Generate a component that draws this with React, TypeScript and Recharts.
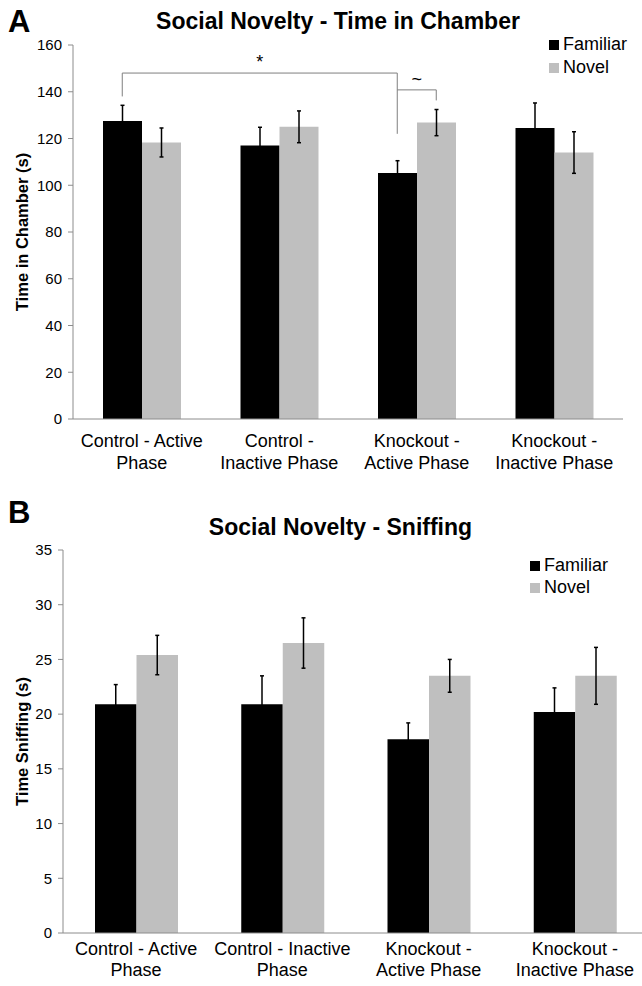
import React from "react";
import { BarChart, Bar, XAxis, YAxis, ErrorBar, Legend, ReferenceLine } from "recharts";

// Panel A - time in chamber
const categoriesA = [
  "Control - Active\nPhase",
  "Control -\nInactive Phase",
  "Knockout -\nActive Phase",
  "Knockout -\nInactive Phase",
];
const familiarA = [127.5, 117, 105.2, 124.5];
const familiarErrA = [6.7, 7.8, 5.3, 10.7];
const novelA = [118.3, 125, 126.8, 114];
const novelErrA = [6.2, 6.8, 5.6, 8.9];
const ticksA = [0, 20, 40, 60, 80, 100, 120, 140, 160];

// Panel B - sniffing
const categoriesB = [
  "Control - Active\nPhase",
  "Control - Inactive\nPhase",
  "Knockout -\nActive Phase",
  "Knockout -\nInactive Phase",
];
const familiarB = [20.9, 20.9, 17.7, 20.2];
const familiarErrB = [1.8, 2.6, 1.5, 2.2];
const novelB = [25.4, 26.5, 23.5, 23.5];
const novelErrB = [1.8, 2.3, 1.5, 2.6];
const ticksB = [0, 5, 10, 15, 20, 25, 30, 35];

// significance brackets on panel A
const bracketFrom = [0, 2];
const bracketTo = [2, 2];
const bracketFromSeries = ["familiar", "familiar"];
const bracketToSeries = ["familiar", "novel"];
const bracketY = [148, 140.8];
const bracketLeftEnd = [138, 140.8];
const bracketRightEnd = [122, 136.3];
const bracketLabel = ["*", "~"];

const FONT = "'Liberation Sans', Arial, sans-serif";
const AXIS = "#8c8c8c";

const build = (cats: string[], fam: number[], famErr: number[], nov: number[], novErr: number[]) =>
  cats.map((c, i) => ({
    category: c,
    familiar: fam[i],
    familiarErr: famErr[i],
    novel: nov[i],
    novelErr: novErr[i],
  }));

const dataA = build(categoriesA, familiarA, familiarErrA, novelA, novelErrA);
const dataB = build(categoriesB, familiarB, familiarErrB, novelB, novelErrB);

const categoryTick = (first: number, step: number) => (props: any) => {
  const { x, y, payload } = props;
  const lines = String(payload.value).split("\n");
  return (
    <text x={x} y={y} textAnchor="middle" fontSize={18} fill="#000" fontFamily={FONT}>
      {lines.map((l, i) => (
        <tspan key={i} x={x} dy={i === 0 ? first : step}>
          {l}
        </tspan>
      ))}
    </text>
  );
};

// shifts a reference segment from band centre to the bar centre
const shifted = (dl: number, dr: number, label?: string) => (p: any) => {
  const x1 = p.x1 + dl;
  const x2 = p.x2 + dr;
  return (
    <g>
      <line x1={x1} y1={p.y1} x2={x2} y2={p.y2} stroke="#7f7f7f" strokeWidth={1} />
      {label ? (
        <text x={(x1 + x2) / 2} y={p.y1 - 5} textAnchor="middle" fontSize={18} fill="#000" fontFamily={FONT}>
          {label}
        </text>
      ) : null}
    </g>
  );
};

const legendFmt = (v: string) => <span style={{ color: "#000" }}>{v}</span>;

export default function App() {
  const barA = 39;
  const barB = 41.5;
  const off = (s: string, w: number) => (s === "familiar" ? -w / 2 : w / 2);

  return (
    <div
      style={{
        position: "absolute",
        left: 0,
        top: 0,
        width: 642,
        height: 986,
        overflow: "hidden",
        background: "#fff",
        fontFamily: FONT,
      }}
    >
      <div style={{ position: "absolute", left: 8, top: 6, fontSize: 31, fontWeight: "bold", lineHeight: "32px" }}>A</div>
      <div
        style={{ position: "absolute", left: 0, width: 676, top: 9, textAlign: "center", fontSize: 23, fontWeight: "bold", lineHeight: "24px" }}
      >
        Social Novelty - Time in Chamber
      </div>

      <div style={{ position: "absolute", left: 0, top: 0 }}>
        <BarChart width={642} height={480} data={dataA} barGap={0} margin={{ top: 45, right: 19, left: 0, bottom: 0 }}>
          <XAxis
            dataKey="category"
            tickLine={false}
            tickSize={0}
            tickMargin={0}
            interval={0}
            height={61}
            axisLine={{ stroke: AXIS }}
            tick={categoryTick(28, 22)}
          />
          <YAxis
            domain={[0, 160]}
            ticks={ticksA}
            width={73}
            tickSize={5}
            tickMargin={6}
            axisLine={{ stroke: AXIS }}
            tickLine={{ stroke: AXIS }}
            tick={{ fill: "#000", fontSize: 15, fontFamily: FONT }}
            label={{
              value: "Time in Chamber (s)",
              angle: -90,
              position: "insideLeft",
              offset: 22,
              style: { textAnchor: "middle", fontWeight: "bold", fontSize: 16.5, fill: "#000", fontFamily: FONT },
            }}
          />
          <Legend
            layout="horizontal"
            verticalAlign="top"
            align="left"
            iconType="square"
            iconSize={10}
            formatter={legendFmt}
            wrapperStyle={{ left: 549, top: 33, width: 100, height: 0, fontSize: 18, lineHeight: "23px" }}
          />
          <Bar dataKey="familiar" name="Familiar" fill="#000" barSize={barA} isAnimationActive={false}>
            <ErrorBar dataKey="familiarErr" width={2} stroke="#000" strokeWidth={1.5} isAnimationActive={false} />
          </Bar>
          <Bar dataKey="novel" name="Novel" fill="#bfbfbf" barSize={barA} isAnimationActive={false}>
            <ErrorBar dataKey="novelErr" width={2} stroke="#000" strokeWidth={1.5} isAnimationActive={false} />
          </Bar>
          {bracketY.map((y, i) => {
            const a = categoriesA[bracketFrom[i]];
            const b = categoriesA[bracketTo[i]];
            const dl = off(bracketFromSeries[i], barA);
            const dr = off(bracketToSeries[i], barA);
            return (
              <React.Fragment key={i}>
                <ReferenceLine segment={[{ x: a, y }, { x: b, y }]} shape={shifted(dl, dr, bracketLabel[i])} />
                {bracketLeftEnd[i] !== y ? (
                  <ReferenceLine segment={[{ x: a, y }, { x: a, y: bracketLeftEnd[i] }]} shape={shifted(dl, dl)} />
                ) : null}
                <ReferenceLine segment={[{ x: b, y }, { x: b, y: bracketRightEnd[i] }]} shape={shifted(dr, dr)} />
              </React.Fragment>
            );
          })}
        </BarChart>
      </div>

      <div style={{ position: "absolute", left: 8, top: 497, fontSize: 31, fontWeight: "bold", lineHeight: "32px" }}>B</div>
      <div
        style={{ position: "absolute", left: 0, width: 681, top: 515, textAlign: "center", fontSize: 23, fontWeight: "bold", lineHeight: "24px" }}
      >
        Social Novelty - Sniffing
      </div>

      <div style={{ position: "absolute", left: 0, top: 480 }}>
        <BarChart width={660} height={506} data={dataB} barGap={0} margin={{ top: 70, right: 12, left: 0, bottom: 0 }}>
          <XAxis
            dataKey="category"
            tickLine={false}
            tickSize={0}
            tickMargin={0}
            interval={0}
            height={53}
            axisLine={{ stroke: AXIS }}
            tick={categoryTick(22, 21)}
          />
          <YAxis
            domain={[0, 35]}
            ticks={ticksB}
            width={63}
            tickSize={5}
            tickMargin={6}
            axisLine={{ stroke: AXIS }}
            tickLine={{ stroke: AXIS }}
            tick={{ fill: "#000", fontSize: 15, fontFamily: FONT }}
            label={{
              value: "Time Sniffing (s)",
              angle: -90,
              position: "insideLeft",
              offset: 22,
              style: { textAnchor: "middle", fontWeight: "bold", fontSize: 16.5, fill: "#000", fontFamily: FONT },
            }}
          />
          <Legend
            layout="horizontal"
            verticalAlign="top"
            align="left"
            iconType="square"
            iconSize={10}
            formatter={legendFmt}
            wrapperStyle={{ left: 530, top: 74, width: 100, height: 0, fontSize: 18, lineHeight: "22px" }}
          />
          <Bar dataKey="familiar" name="Familiar" fill="#000" barSize={barB} isAnimationActive={false}>
            <ErrorBar dataKey="familiarErr" width={2} stroke="#000" strokeWidth={1.5} isAnimationActive={false} />
          </Bar>
          <Bar dataKey="novel" name="Novel" fill="#bfbfbf" barSize={barB} isAnimationActive={false}>
            <ErrorBar dataKey="novelErr" width={2} stroke="#000" strokeWidth={1.5} isAnimationActive={false} />
          </Bar>
        </BarChart>
      </div>
    </div>
  );
}
